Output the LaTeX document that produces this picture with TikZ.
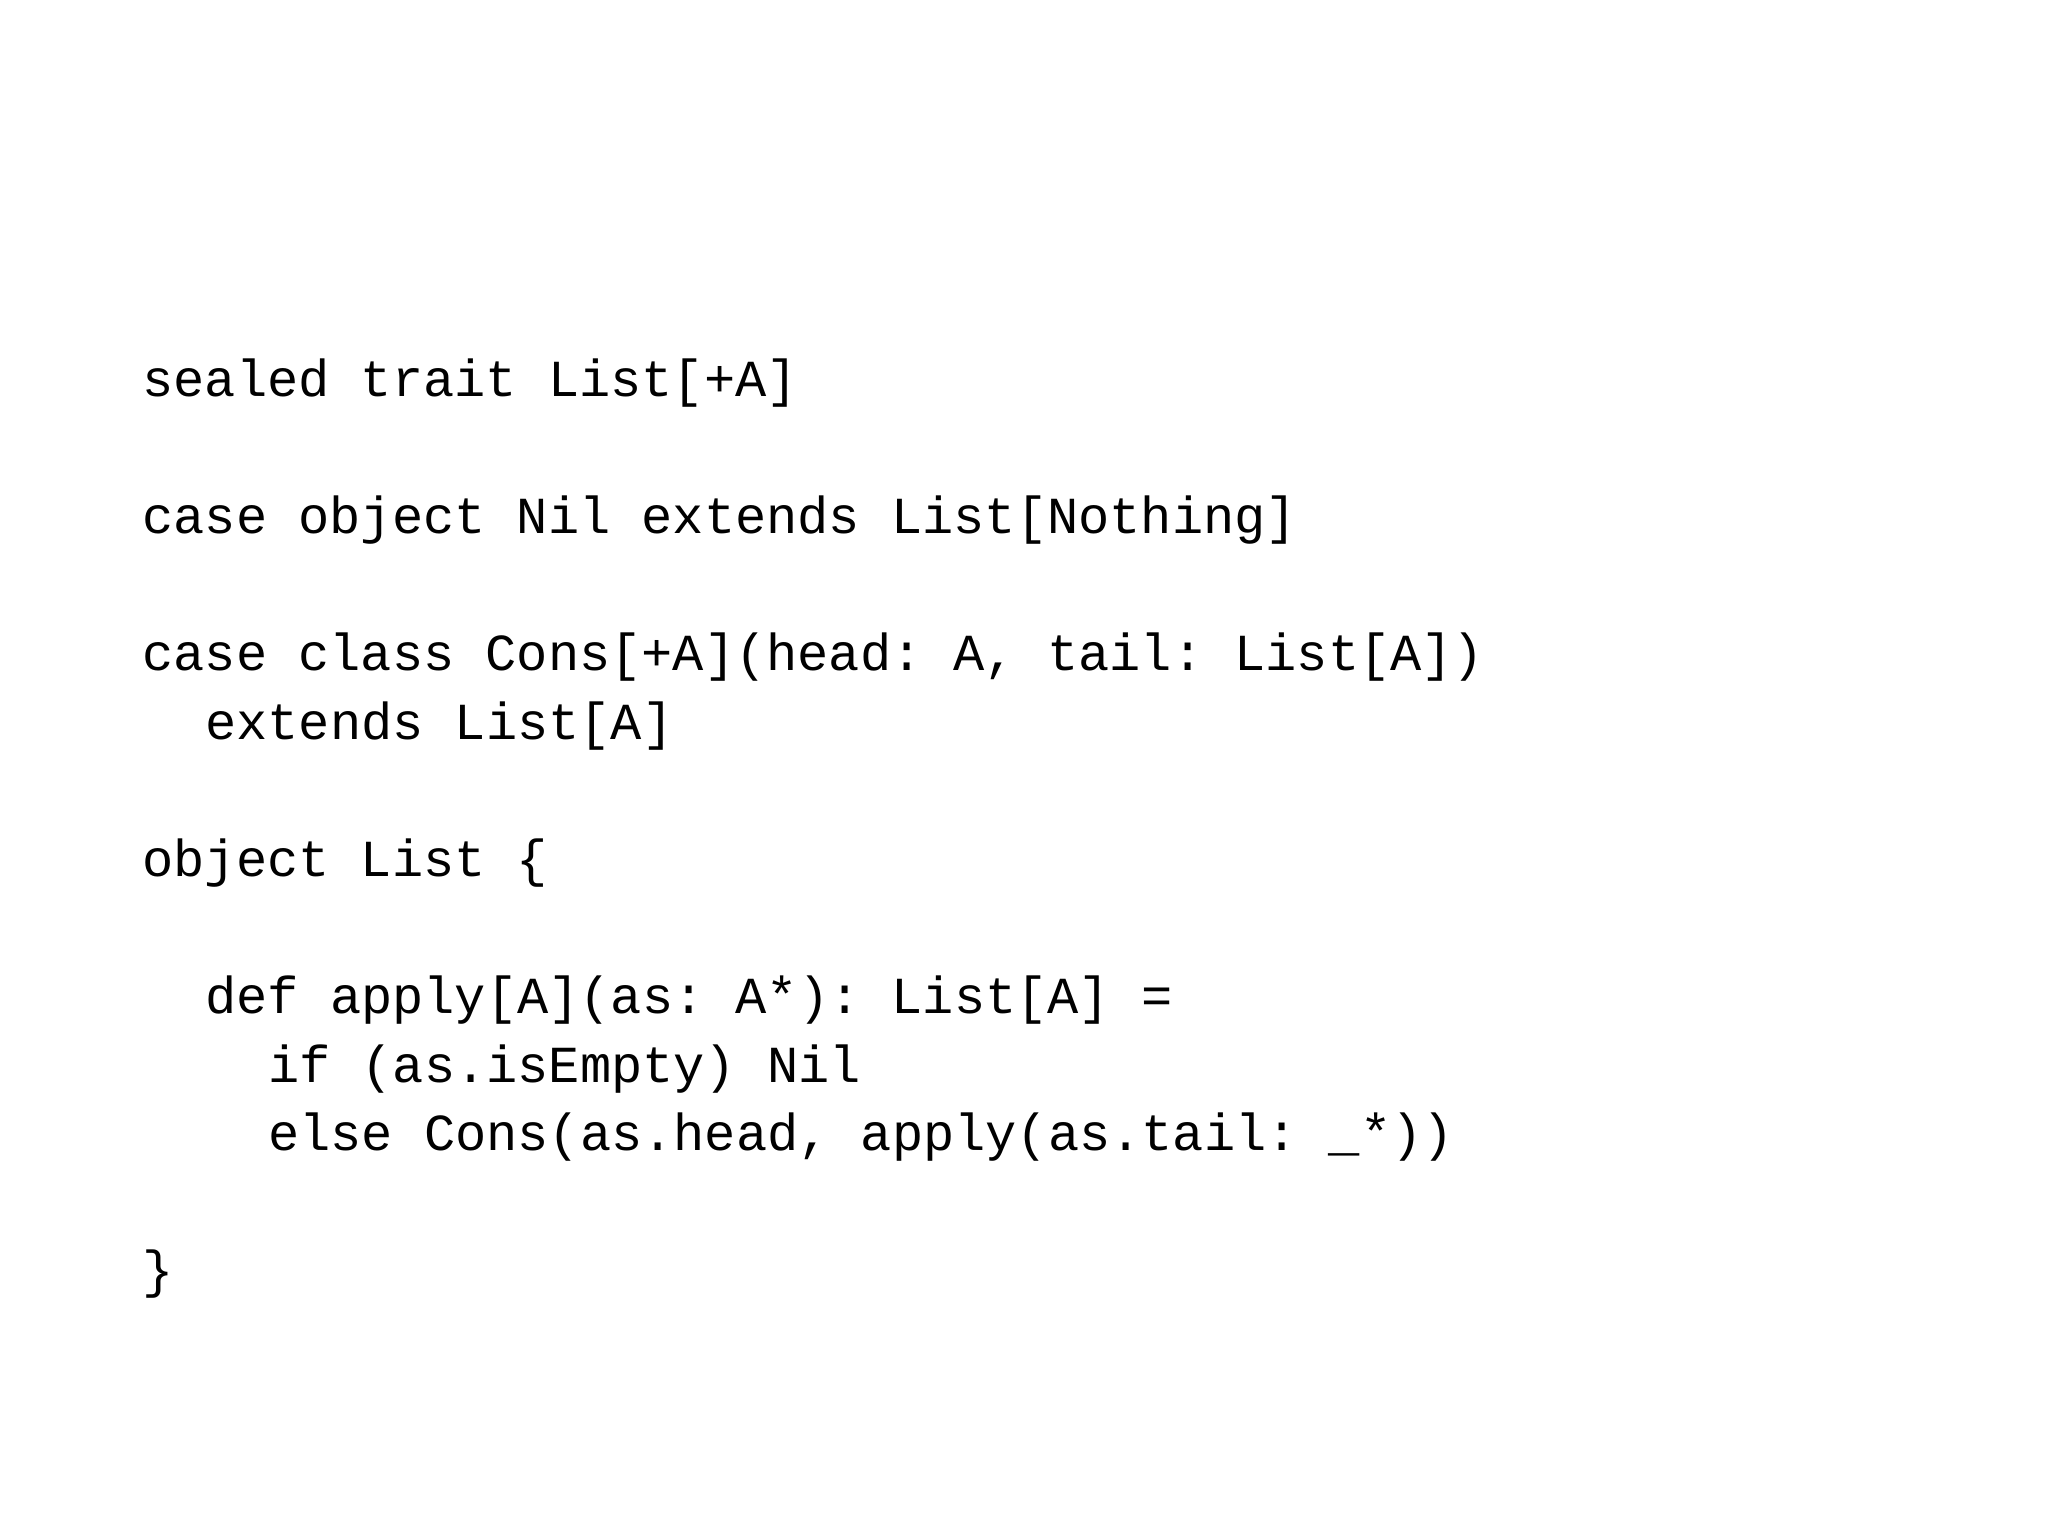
\documentclass[tikz,border=0pt]{standalone}
\usepackage{fontspec}
\setmonofont{Liberation Mono}
\begin{document}
\begin{tikzpicture}[x=1pt,y=1pt,code/.style={anchor=base west,inner sep=0pt,font=\fontsize{26}{30}\ttfamily}]
\useasboundingbox[fill=white] (0,0) rectangle (1024,-768);
\def\cw{15.7}
\def\ls{34.3}
\node[code] (l0) at (71,-198) {sealed trait List[+A]};
\node[code] (l2) at (71,-198-2*\ls) {case object Nil extends List[Nothing]};
\node[code] (l4) at (71,-198-4*\ls) {case class Cons[+A](head: A, tail: List[A])};
\node[code] (l5) at (71+2*\cw,-198-5*\ls) {extends List[A]};
\node[code] (l7) at (71,-198-7*\ls) {object List \{};
\node[code] (l9) at (71+2*\cw,-198-9*\ls) {def apply[A](as: A*): List[A] =};
\node[code] (l10) at (71+4*\cw,-198-10*\ls) {if (as.isEmpty) Nil};
\node[code] (l11) at (71+4*\cw,-198-11*\ls) {else Cons(as.head, apply(as.tail: \_*))};
\node[code] (l13) at (71,-198-13*\ls) {\}};
\end{tikzpicture}
\end{document}
